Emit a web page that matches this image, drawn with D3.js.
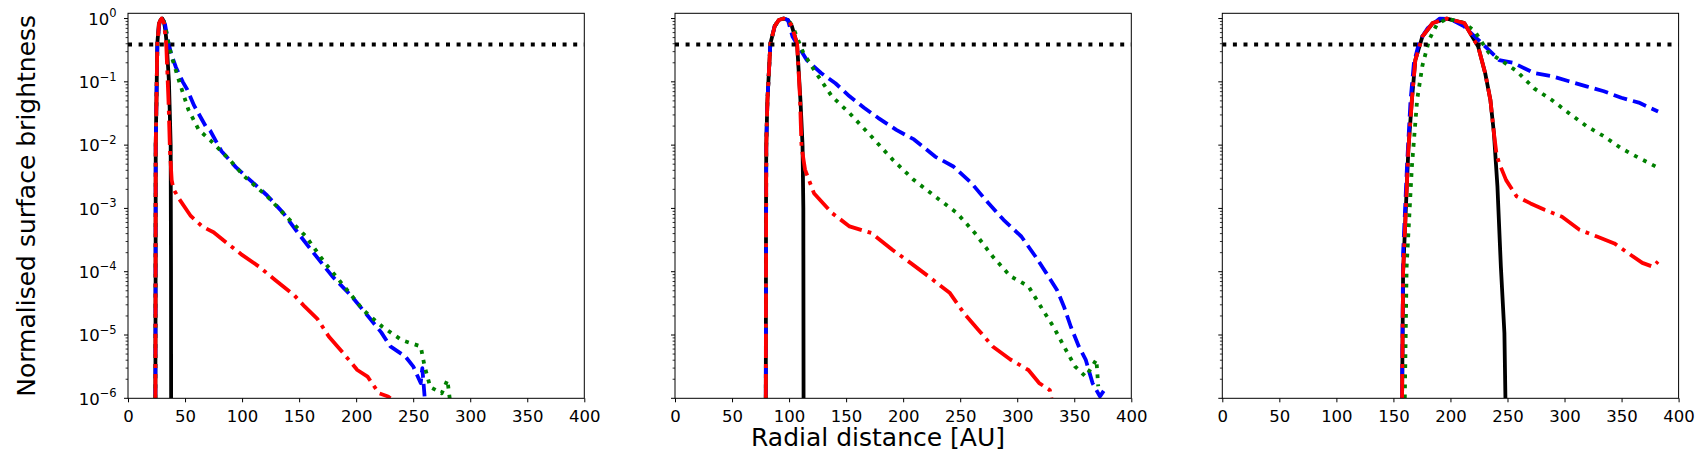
<!DOCTYPE html>
<html>
<head>
<meta charset="utf-8">
<script src="https://cdn.jsdelivr.net/npm/d3@7/dist/d3.min.js"></script>
<style>
  html, body { margin: 0; padding: 0; background: #fff; }
  svg { display: block; font-family: "DejaVu Sans", sans-serif; }
  .tick-label { font-size: 16.5px; fill: #000; }
  .axis-title { font-size: 25px; fill: #000; }
</style>
</head>
<body>
<svg id="fig" width="1697" height="452"></svg>
<script>
/* ---------- data: [radius AU, normalised brightness] ---------- */
const black1 = [[24.0,1e-6],[24.2,1e-4],[24.3,1e-2],[25.2,0.1],[25.7,0.4],[27,0.8],[28.5,0.95],[30,1.0],[31.5,0.9],[32.8,0.65],[33.9,0.4],[35.9,0.1],[37.4,0.01],[37.7,1e-4],[37.8,1e-6]];
const blue1  = [[24.0,1e-6],[24.3,1e-2],[25.2,0.1],[25.8,0.4],[27.5,0.85],[30,1.0],[32.5,0.8],[35,0.45],[38,0.27],[42,0.17],[48,0.1],[52,0.075],[58,0.042],[68,0.02],[72,0.017],[82,8e-3],[95,4.4e-3],[109,2.6e-3],[122,1.6e-3],[136,8.5e-4],[149,4.1e-4],[163,1.95e-4],[179,8.5e-5],[196,4.1e-5],[213,1.74e-5],[222,1.1e-5],[230,6.6e-6],[243,4.6e-6],[250,3.2e-6],[256.6,1.74e-6],[258,3e-6],[260,1.07e-6]];
const green1 = [[24.0,1e-6],[24.3,1e-2],[25.2,0.1],[25.8,0.4],[27.5,0.85],[30,1.0],[32.5,0.8],[35,0.45],[38.3,0.25],[45,0.1],[53,0.036],[62,0.0175],[72,0.012],[89,5.9e-3],[102,3.2e-3],[122,1.55e-3],[139,7.4e-4],[156,3.6e-4],[172.6,1.38e-4],[189.4,5.9e-5],[206,2.5e-5],[223,1.35e-5],[240,8.3e-6],[256.6,6.6e-6],[260,3.2e-6],[265,1.5e-6],[270,1.35e-6],[275,1.2e-6],[280,1.95e-6],[282,1.0e-6]];
const red1   = [[24.0,1e-6],[24.3,1e-2],[25.2,0.1],[25.7,0.4],[27.3,0.85],[29.5,1.0],[31.5,0.85],[33.5,0.4],[35.5,0.05],[36.8,8e-3],[38.3,2.8e-3],[40,2e-3],[45,1.4e-3],[55,7.6e-4],[65,5.2e-4],[75,4.2e-4],[85,3e-4],[99,1.9e-4],[115,1.2e-4],[129,7.4e-5],[146,4.2e-5],[155,2.8e-5],[166,1.8e-5],[176,9.5e-6],[189,5.1e-6],[201,2.8e-6],[210,2.2e-6],[220,1.2e-6],[228,1.07e-6],[230,1e-6]];

const black2 = [[79.6,1e-6],[79.8,1e-3],[80,1e-2],[81,0.05],[83.6,0.4],[87.4,0.76],[91,0.95],[95.2,1.0],[99,0.95],[102.4,0.76],[107,0.4],[110,0.05],[111.8,0.01],[112.5,1e-3],[112.7,1e-6]];
const blue2  = [[79.6,1e-6],[80,1e-2],[81,0.05],[83.6,0.4],[87.4,0.76],[91,0.95],[95.2,1.0],[99,0.95],[103,0.52],[115.6,0.22],[128,0.138],[140.6,0.095],[153,0.059],[165.7,0.039],[178,0.027],[194,0.0174],[209.5,0.0123],[228,6.6e-3],[244,4.6e-3],[260,2.5e-3],[272,1.38e-3],[288,6.6e-4],[303.6,3.6e-4],[316,1.74e-4],[325.5,9.5e-5],[335,5.1e-5],[341,2.8e-5],[347,1.35e-5],[354,6.6e-6],[360,4.1e-6],[366,1.74e-6],[372.5,1.07e-6],[378,1.5e-6]];
const green2 = [[79.6,1e-6],[80,1e-2],[81,0.05],[83.6,0.4],[87.4,0.76],[91,0.95],[95.2,1.0],[99,0.97],[103,0.76],[112.4,0.29],[121.8,0.155],[137.5,0.059],[153,0.032],[172,0.0138],[190.8,5.9e-3],[209.5,2.8e-3],[228,1.55e-3],[247,8.5e-4],[262.8,4.1e-4],[278.5,1.74e-4],[294,8.5e-5],[309.8,5.9e-5],[322.4,2.5e-5],[331.8,1.35e-5],[341,6.6e-6],[350.6,3.2e-6],[360,2.2e-6],[369.4,4.1e-6],[371,1.55e-6]];
const red2   = [[79.6,1e-6],[80,1e-2],[81,0.05],[83.6,0.4],[87.4,0.76],[91,0.95],[95.2,1.0],[99,0.95],[102.4,0.76],[107,0.4],[109.5,0.06],[110.9,9.5e-3],[114,4.1e-3],[121.8,1.74e-3],[137.5,8.5e-4],[153,5.2e-4],[172,4.1e-4],[190.8,2.2e-4],[206.4,1.38e-4],[222,8.5e-5],[241,4.6e-5],[253.4,2.2e-5],[266,1.2e-5],[278.5,6.6e-6],[294,4.1e-6],[309.8,2.8e-6],[319.2,1.74e-6],[328.6,1.35e-6],[330,1e-6]];

const black3 = [[157.6,1e-6],[158.5,1e-4],[160,4.1e-4],[163.1,8.5e-3],[166.2,0.052],[169.2,0.22],[175.4,0.52],[184.5,0.85],[196.8,1.0],[212.1,0.85],[224.3,0.36],[230.4,0.138],[235,0.052],[238.1,0.0155],[241.2,2.2e-3],[244.2,1.2e-4],[247.3,1.07e-5],[248.2,1e-6]];
const blue3  = [[157.6,1e-6],[158.5,2e-4],[162,5e-3],[165,0.05],[168,0.2],[173,0.45],[180,0.7],[190.7,1.0],[200,0.98],[212,0.75],[221.3,0.52],[233.5,0.32],[242.7,0.22],[255,0.2],[273.3,0.138],[288.6,0.123],[303.9,0.102],[319.2,0.085],[334.5,0.071],[349.8,0.056],[365.1,0.047],[382,0.034]];
const green3 = [[160,1e-6],[161.6,1.2e-4],[166.2,4.6e-3],[170.8,0.052],[175.4,0.18],[181.5,0.47],[188,0.8],[196.8,1.0],[212.1,0.85],[221.3,0.63],[233.5,0.29],[245.8,0.21],[258,0.148],[273.3,0.079],[288.6,0.052],[303.9,0.032],[319.2,0.02],[334.5,0.0138],[349.8,8.9e-3],[365.1,6.3e-3],[382,4.4e-3]];
const red3   = [[157.6,1e-6],[158.5,1e-4],[160,4.1e-4],[163.1,8.5e-3],[166.2,0.052],[169.2,0.22],[175.4,0.52],[184.5,0.85],[196.8,1.0],[212.1,0.85],[224.3,0.36],[230.4,0.138],[235,0.052],[238.1,0.0155],[240.5,7e-3],[242.7,5.2e-3],[248.8,2.8e-3],[258,1.55e-3],[270.2,1.2e-3],[282.5,9.5e-4],[297.8,7.4e-4],[313.1,4.6e-4],[328.4,3.6e-4],[343.7,2.8e-4],[356,1.95e-4],[368.2,1.38e-4],[377.4,1.2e-4],[382,1.45e-4]];

const thresholdLevel = 0.39;
const xTicks = [0, 50, 100, 150, 200, 250, 300, 350, 400];
const yTickExps = [0, -1, -2, -3, -4, -5, -6];
const xTitle = "Radial distance [AU]";
const yTitle = "Normalised surface brightness";

/* ---------- layout ---------- */
const svg = d3.select("#fig");
const panelLefts = [128, 675, 1222.3];
const panelW = 456.3;
const plotTop = 13.3, plotBottom = 398.3;

const xScale = d3.scaleLinear().domain([0, 400]);
const yScale = d3.scaleLog().domain([1e-6, 1.21]).range([plotBottom, plotTop]);

const panels = [
  { black: black1, blue: blue1, green: green1, red: red1 },
  { black: black2, blue: blue2, green: green2, red: red2 },
  { black: black3, blue: blue3, green: green3, red: red3 }
];

// matplotlib-like styles
const lw = 3.8;
const styles = [
  { key: "black", color: "#000000", dash: null },
  { key: "blue",  color: "#0000ff", dash: [3.7 * lw, 1.6 * lw] },
  { key: "green", color: "#008000", dash: [1 * lw, 1.65 * lw] },
  { key: "red",   color: "#ff0000", dash: [6.4 * lw, 1.6 * lw, 1 * lw, 1.6 * lw] }
];

// minor tick values (2..9 per decade)
const minorVals = [];
for (let e = -6; e <= 0; e++) {
  for (let m = 2; m <= 9; m++) {
    const v = m * Math.pow(10, e);
    if (v <= 1.21) minorVals.push(v);
  }
}

panels.forEach((p, i) => {
  const x0 = panelLefts[i];
  const xs = xScale.copy().range([x0, x0 + panelW]);
  const g = svg.append("g");

  // clip so lines stop at frame
  const clipId = "clip" + i;
  svg.append("clipPath").attr("id", clipId).append("rect")
    .attr("x", x0).attr("y", plotTop).attr("width", panelW).attr("height", plotBottom - plotTop);

  const line = d3.line()
    .x(d => xs(d[0]))
    .y(d => yScale(d[1]));

  const plot = g.append("g").attr("clip-path", `url(#${clipId})`);

  styles.forEach(s => {
    plot.append("path")
      .datum(p[s.key])
      .attr("d", line)
      .attr("fill", "none")
      .attr("stroke", s.color)
      .attr("stroke-width", lw)
      .attr("stroke-linejoin", "round")
      .attr("stroke-linecap", "butt")
      .attr("stroke-dasharray", s.dash ? s.dash.join(",") : null);
  });

  // horizontal dotted threshold
  plot.append("line")
    .attr("x1", x0).attr("x2", x0 + panelW)
    .attr("y1", yScale(thresholdLevel)).attr("y2", yScale(thresholdLevel))
    .attr("stroke", "#000").attr("stroke-width", 4)
    .attr("stroke-dasharray", "4,6.6");

  // frame
  g.append("rect")
    .attr("x", x0).attr("y", plotTop).attr("width", panelW).attr("height", plotBottom - plotTop)
    .attr("fill", "none").attr("stroke", "#000").attr("stroke-width", 1);

  // x axis ticks
  const xAxis = d3.axisBottom(xs).tickValues(xTicks).tickSize(4).tickPadding(4).tickFormat(d3.format("d"));
  const xa = g.append("g").attr("transform", `translate(0,${plotBottom})`).call(xAxis);
  xa.select(".domain").remove();
  xa.selectAll("line").attr("stroke", "#000").attr("stroke-width", 1);
  xa.attr("font-family", null).attr("font-size", null);
  xa.selectAll("text").attr("class", "tick-label")
    .attr("y", 23.4).attr("dy", null);

  // y major ticks
  g.selectAll(".ymaj").data(yTickExps).enter().append("line")
    .attr("x1", x0 - 4).attr("x2", x0)
    .attr("y1", d => yScale(Math.pow(10, d))).attr("y2", d => yScale(Math.pow(10, d)))
    .attr("stroke", "#000").attr("stroke-width", 1);
  // y minor ticks
  g.selectAll(".ymin").data(minorVals).enter().append("line")
    .attr("x1", x0 - 2.4).attr("x2", x0)
    .attr("y1", d => yScale(d)).attr("y2", d => yScale(d))
    .attr("stroke", "#000").attr("stroke-width", 0.8);

  // y tick labels on first panel only
  if (i === 0) {
    yTickExps.forEach(e => {
      const t = g.append("text").attr("class", "tick-label")
        .attr("x", x0 - 11.3).attr("y", yScale(Math.pow(10, e)) + 6.2)
        .attr("text-anchor", "end");
      t.append("tspan").text("10");
      t.append("tspan").attr("font-size", "11.5px").attr("dy", -7.5)
        .text(e === 0 ? "0" : "\u2212" + Math.abs(e));
    });
  }
});

// axis titles
svg.append("text").attr("class", "axis-title")
  .attr("x", 878).attr("y", 446).attr("text-anchor", "middle")
  .text(xTitle);

svg.append("text").attr("class", "axis-title")
  .attr("transform", "translate(35,205.8) rotate(-90)")
  .attr("text-anchor", "middle")
  .text(yTitle);
</script>
</body>
</html>
